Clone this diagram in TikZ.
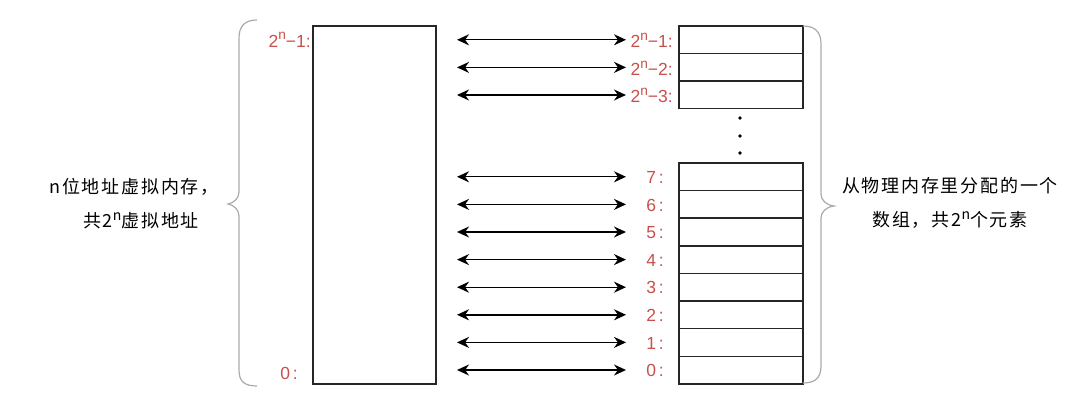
\documentclass[tikz,border=0pt]{standalone}
\usepackage{fontspec}
\setmainfont{Liberation Sans}
\newfontfamily\cjk[LetterSpace=10]{Noto Sans CJK SC}
\usetikzlibrary{arrows.meta}
\definecolor{lbl}{HTML}{C8504B}
\definecolor{brc}{HTML}{AAAAAA}
\newcommand\supn{\raisebox{0.42em}{\fontsize{0.78em}{0.78em}\selectfont n}}
\begin{document}
\begin{tikzpicture}[x=1pt,y=-1pt,
 cell/.style={draw=black!85,line width=1.4pt,minimum width=124pt,minimum height=27.6pt,inner sep=0pt},
 lab/.style={text=lbl,font=\fontsize{17.5}{17.5}\selectfont,anchor=east,inner sep=0pt},
 biarrow/.style={{Stealth[length=12pt,width=11pt]}-{Stealth[length=12pt,width=11pt]},line width=1.4pt},
 brace/.style={draw=brc,line width=1.2pt},
 dot/.style={circle,fill=black,inner sep=0pt,minimum size=3.6pt},
 txt/.style={font=\cjk\fontsize{18}{18}\selectfont,inner sep=0pt}]
\useasboundingbox (0,0) rectangle (1080,401);
% virtual memory block
\node[cell,minimum width=123pt,minimum height=358pt] (mem) at (374.5,205) {};
\node[lab] (lt) at (311,40) {2\supn−1:};
\node[lab] (lb) at (298,373) {0\,:};
% top physical cells
\node[cell] (t1) at (741,39.8) {};
\node[cell] (t2) at (741,67.4) {};
\node[cell] (t3) at (741,95.0) {};
\node[lab] (tl1) at (673,40.5) {2\supn−1:};
\node[lab] (tl2) at (673,68.1) {2\supn−2:};
\node[lab] (tl3) at (673,95.7) {2\supn−3:};
% dots
\node[dot] (d1) at (740,118) {};
\node[dot] (d2) at (740,136) {};
\node[dot] (d3) at (740,153) {};
% lower physical cells 7..0
\foreach \k [evaluate=\k as \yy using {163+27.6*(7-\k)+13.8}] in {7,6,...,0}{
  \node[cell] (p\k) at (741,\yy) {};
  \node[lab] (pl\k) at (664,\yy+0.7) {\k\,:};
}
% arrows
\foreach \n/\yy in {a1/39.8,a2/67.4,a3/95.0,b7/176.8,b6/204.4,b5/232,b4/259.6,b3/287.2,b2/314.8,b1/342.4,b0/370}{
  \coordinate (\n L) at (457,\yy);
  \coordinate (\n R) at (626,\yy);
  \draw[biarrow] (\n L) -- (\n R);
}
% braces
\draw[brace] (257,20) .. controls (245,20) and (239,26) .. (239,38) -- (239,192)
  .. controls (239,198) and (234,203) .. (228,204)
  .. controls (234,205) and (239,210) .. (239,216) -- (239,370)
  .. controls (239,382) and (245,386) .. (257,386);
\draw[brace] (803,26) .. controls (815,26) and (821,32) .. (821,44) -- (821,194)
  .. controls (821,200) and (826,205) .. (834,206)
  .. controls (826,207) and (821,212) .. (821,218) -- (821,366)
  .. controls (821,378) and (815,383) .. (803,383);
% texts
\node[txt] (ltx1) at (134,187) {n位地址虚拟内存，};
\node[txt] (ltx2) at (141,221) {共2\supn 虚拟地址};
\node[txt] (rtx1) at (950,186) {从物理内存里分配的一个};
\node[txt] (rtx2) at (950,220) {数组，共2\supn 个元素};
\end{tikzpicture}
\end{document}
